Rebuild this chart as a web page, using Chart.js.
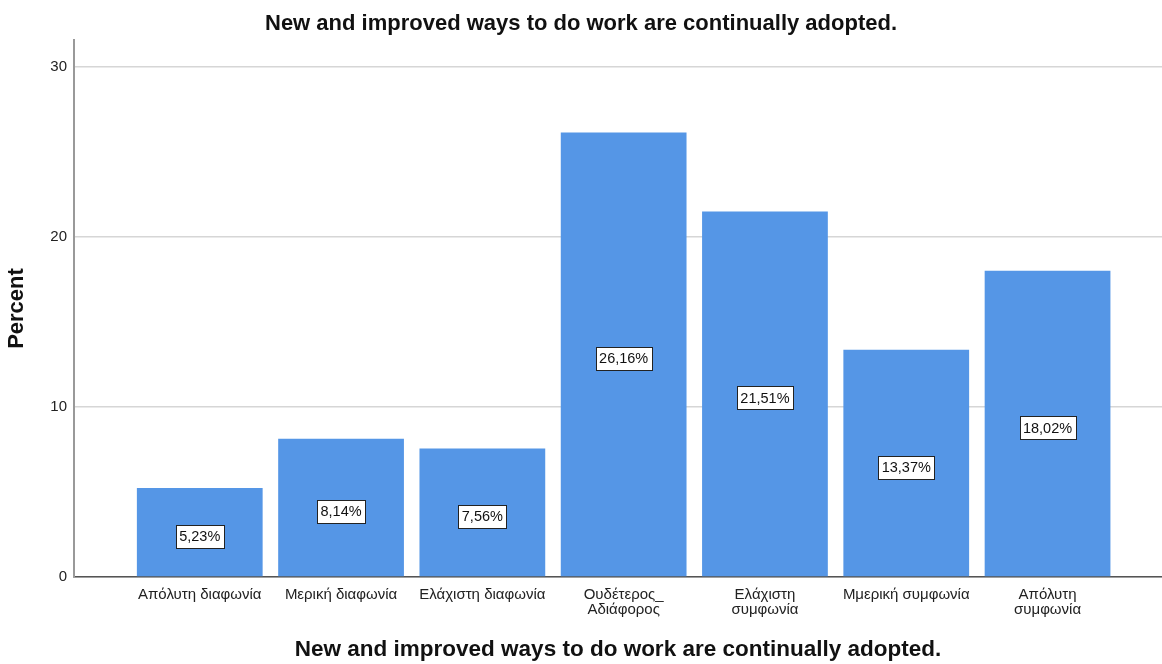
<!DOCTYPE html>
<html>
<head>
<meta charset="utf-8">
<script src="https://cdn.jsdelivr.net/npm/chart.js@4"></script>
<style>
  html, body { margin: 0; padding: 0; background: #fff; }
  #wrap { width: 1162px; height: 664px; }
</style>
</head>
<body>
<div id="wrap"><canvas id="myChart" width="1162" height="664"></canvas></div>
<script>
const categories = [
  "Απόλυτη διαφωνία",
  "Μερική διαφωνία",
  "Ελάχιστη διαφωνία",
  ["Ουδέτερος_", "Αδιάφορος"],
  ["Ελάχιστη", "συμφωνία"],
  "Μμερική συμφωνία",
  ["Απόλυτη", "συμφωνία"],
];
const percents = [5.23, 8.14, 7.56, 26.16, 21.51, 13.37, 18.02];
const yTicks = [0, 10, 20, 30];
const titleText = "New and improved ways to do work are continually adopted.";

const FONT = "'Liberation Sans', Arial, sans-serif";

// label boxes in the middle of every bar
const boxLabels = {
  id: "boxLabels",
  afterDatasetsDraw(chart) {
    const ctx = chart.ctx;
    const meta = chart.getDatasetMeta(0);
    ctx.save();
    ctx.font = "14.5px " + FONT;
    ctx.textAlign = "center";
    ctx.textBaseline = "middle";
    meta.data.forEach((bar, i) => {
      const txt = percents[i].toFixed(2).replace(".", ",") + "%";
      const cx = bar.x;
      const cy = (bar.y + bar.base) / 2 + 4;
      const w = Math.round(ctx.measureText(txt).width + 7);
      const h = 23;
      const x0 = Math.round(cx - w / 2) + 0.5;
      const y0 = Math.round(cy - h / 2) + 0.5;
      ctx.fillStyle = "#fff";
      ctx.fillRect(x0, y0, w, h);
      ctx.strokeStyle = "#222";
      ctx.lineWidth = 1;
      ctx.strokeRect(x0, y0, w, h);
      ctx.fillStyle = "#111";
      ctx.fillText(txt, cx, cy + 1);
    });
    ctx.restore();
  },
};

const ctx1 = document.getElementById("myChart").getContext("2d");

const data1 = {
  datasets: [
    {
      label: "Percent",
      data: percents.map((v, i) => ({ x: i, y: v })),
      backgroundColor: "#5596E6",
      borderWidth: 0,
      barPercentage: 1,
      categoryPercentage: 0.89,
    },
  ],
};

const config1 = {
  type: "bar",
  data: data1,
  options: {
    responsive: false,
    animation: false,
    layout: { padding: 0 },
    plugins: {
      legend: { display: false },
      tooltip: { enabled: false },
      title: {
        display: true,
        text: titleText,
        color: "#111",
        font: { family: FONT, size: 22, weight: "bold", lineHeight: 1.2 },
        padding: { top: 10.8, bottom: 2.8 },
      },
    },
    scales: {
      x: {
        type: "linear",
        min: -0.89,
        max: 6.81,
        offset: false,
        afterBuildTicks: (scale) => {
          scale.ticks = categories.map((_, i) => ({ value: i }));
        },
        afterFit: (scale) => { scale.height = 87; },
        ticks: {
          autoSkip: false,
          maxRotation: 0,
          minRotation: 0,
          padding: 10.5,
          color: "#222",
          font: { family: FONT, size: 15, lineHeight: 1.0 },
          callback: (v) => categories[v],
        },
        grid: { display: false, drawTicks: false },
        border: { display: true, color: "#555", width: 1.5 },
        title: {
          display: true,
          text: titleText,
          color: "#111",
          font: { family: FONT, size: 22.5, weight: "bold", lineHeight: 1.0 },
          padding: { top: 0, bottom: 2.75 },
        },
      },
      y: {
        min: 0,
        max: 31.6,
        afterBuildTicks: (scale) => {
          scale.ticks = yTicks.map((v) => ({ value: v }));
        },
        afterFit: (scale) => { scale.width = 74; },
        ticks: {
          padding: 7,
          color: "#222",
          font: { family: FONT, size: 15 },
        },
        grid: { color: "#d6d6d6", lineWidth: 1.5, drawTicks: false },
        border: { display: true, color: "#999", width: 2 },
        title: {
          display: true,
          text: "Percent",
          color: "#111",
          font: { family: FONT, size: 22, weight: "bold", lineHeight: 1.2 },
          padding: { top: 4, bottom: 0 },
        },
      },
    },
  },
  plugins: [boxLabels],
};

const myChart1 = new Chart(ctx1, config1);
</script>
</body>
</html>
